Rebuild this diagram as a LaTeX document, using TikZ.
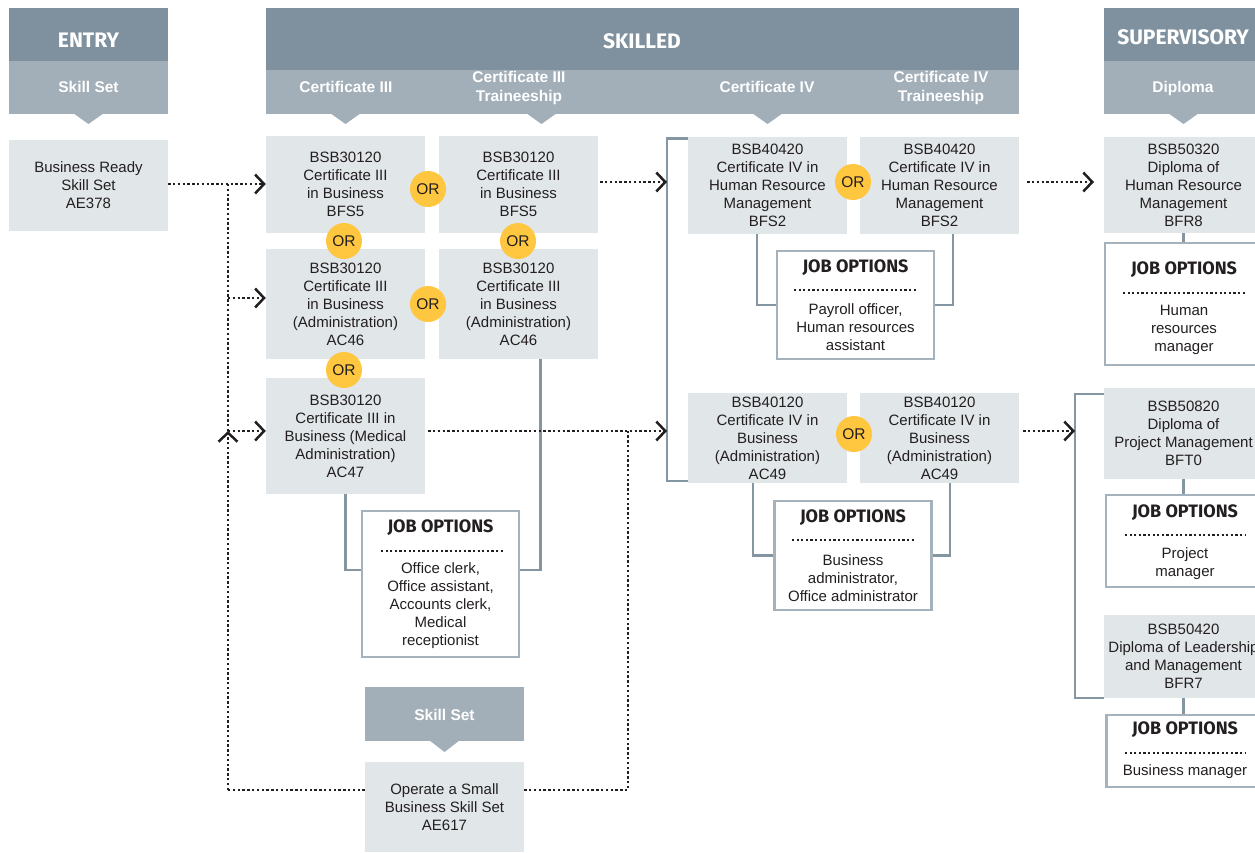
\documentclass[tikz,border=0pt]{standalone}
\usepackage{fontspec}
\setmainfont{Liberation Sans}
\newfontfamily\headfont{Fira Sans}
\usetikzlibrary{arrows.meta,positioning,calc}
\definecolor{hdark}{HTML}{7F919E}
\definecolor{hlight}{HTML}{A2AFB9}
\definecolor{cellgray}{HTML}{E1E6E9}
\definecolor{orgold}{HTML}{FFC63F}
\definecolor{inkgray}{HTML}{231F20}
\definecolor{linkgray}{HTML}{8496A2}
\definecolor{jobedge}{HTML}{A5B2BC}
\begin{document}
\begin{tikzpicture}[x=1pt,y=-1pt,
	course/.style={fill=cellgray, minimum width=159pt, inner sep=0pt, align=center, text=inkgray, font=\fontsize{15}{18}\selectfont},
	orbubble/.style={circle, fill=orgold, minimum size=36pt, inner sep=0pt, text=inkgray, font=\fontsize{15.5}{18}\selectfont},
	jobbox/.style={draw=jobedge, line width=2.5pt, fill=white, minimum width=157pt},
	jobhead/.style={inner sep=0pt, text=inkgray, font=\headfont\bfseries\fontsize{18}{20}\selectfont},
	jobtext/.style={inner sep=0pt, align=center, text=inkgray, font=\fontsize{15}{18}\selectfont},
	jobrule/.style={inkgray, line width=2.2pt, dash pattern=on 2.2pt off 2.4pt},
	hdtext/.style={inner sep=0pt, text=white, font=\headfont\bfseries\fontsize{21}{24}\selectfont},
	subtext/.style={inner sep=0pt, align=center, text=white, font=\bfseries\fontsize{15.5}{19}\selectfont},
	flow/.style={inkgray, line width=2.4pt, dash pattern=on 2.4pt off 2.4pt},
	arrowed/.style={-{Straight Barb[length=9pt,width=19pt,line width=2.5pt]}},
	link/.style={linkgray, line width=2.5pt}]
	\useasboundingbox (0,0) rectangle (1255,852);
	\fill[white] (0,0) rectangle (1255,852);
	\clip (0,0) rectangle (1255,852);

	\fill[hdark] (9,8) rectangle (168,61);
	\fill[hlight] (9,61) rectangle (168,114);
	\fill[hlight] (73,113) -- (88.5,124) -- (104,113) -- cycle;
	\node[hdtext] (entryhd) at (88.5,40) {ENTRY};
	\node[subtext] (entrysub) at (88.5,87) {Skill Set};

	\fill[hdark] (266,8) rectangle (1019,70);
	\fill[hlight] (266,70) rectangle (1019,114);
	\fill[hlight] (330,113) -- (345.5,124) -- (361,113) -- cycle;
	\fill[hlight] (526,113) -- (541.5,124) -- (557,113) -- cycle;
	\fill[hlight] (752,113) -- (767.5,124) -- (783,113) -- cycle;
	\node[hdtext] (skilledhd) at (642,41) {SKILLED};
	\node[subtext] (c3sub) at (346,87) {Certificate III};
	\node[subtext] (c3tsub) at (519,87.5) {Certificate III\\Traineeship};
	\node[subtext] (c4sub) at (767,87) {Certificate IV};
	\node[subtext] (c4tsub) at (941,87.5) {Certificate IV\\Traineeship};

	\fill[hdark] (1104,8) rectangle (1262,61);
	\fill[hlight] (1104,61) rectangle (1262,114);
	\fill[hlight] (1168,113) -- (1183.5,124) -- (1199,113) -- cycle;
	\node[hdtext] (superhd) at (1183,37) {SUPERVISORY};
	\node[subtext] (supersub) at (1183,88) {Diploma};

	\fill[hlight] (365,687) rectangle (524,741);
	\fill[hlight] (429,740) -- (444.5,752) -- (460,740) -- cycle;
	\node[subtext] (smallsub) at (444.5,715) {Skill Set};

	\node[course, minimum height=91pt] (entry) at (88.5,185.5) {Business Ready\\Skill Set\\AE378};
	\node[course, minimum height=97pt] (A1) at (345.5,184.5) {BSB30120\\Certificate III\\in Business\\BFS5};
	\node[course, minimum height=97pt] (B1) at (518.5,184.5) {BSB30120\\Certificate III\\in Business\\BFS5};
	\node[course, minimum height=110pt] (A2) at (345.5,304) {BSB30120\\Certificate III\\in Business\\(Administration)\\AC46};
	\node[course, minimum height=110pt] (B2) at (518.5,304) {BSB30120\\Certificate III\\in Business\\(Administration)\\AC46};
	\node[course, minimum height=116pt] (A3) at (345.5,436) {BSB30120\\Certificate III in\\Business (Medical\\Administration)\\AC47};
	\node[course, minimum height=97pt] (C1) at (767.5,185) {BSB40420\\Certificate IV in\\Human Resource\\Management\\BFS2};
	\node[course, minimum height=97pt] (D1) at (939.5,185) {BSB40420\\Certificate IV in\\Human Resource\\Management\\BFS2};
	\node[course, minimum height=90pt] (C2) at (767.5,438) {BSB40120\\Certificate IV in\\Business\\(Administration)\\AC49};
	\node[course, minimum height=90pt] (D2) at (939.5,438) {BSB40120\\Certificate IV in\\Business\\(Administration)\\AC49};
	\node[course, minimum height=96pt] (E1) at (1183.5,185) {BSB50320\\Diploma of\\Human Resource\\Management\\BFR8};
	\node[course, minimum height=91pt] (E2) at (1183.5,433.5) {BSB50820\\Diploma of\\Project Management\\BFT0};
	\node[course, minimum height=83pt] (E3) at (1183.5,656.5) {BSB50420\\Diploma of Leadership\\and Management\\BFR7};
	\node[course, minimum height=90pt] (F) at (444.5,807) {Operate a Small\\Business Skill Set\\AE617};

	\node[orbubble] (or1) at (428,189) {OR};
	\node[orbubble] (or2) at (344,241) {OR};
	\node[orbubble] (or3) at (518,241) {OR};
	\node[orbubble] (or4) at (428,304) {OR};
	\node[orbubble] (or5) at (344,370) {OR};
	\node[orbubble] (or6) at (853,182) {OR};
	\node[orbubble] (or7) at (854,434) {OR};

	\node[jobbox, minimum height=146pt] (job1) at (440.5,584) {};
	\node[jobhead] (job1h) at (440.5,528) {JOB OPTIONS};
	\draw[jobrule] (381,551) -- (503,551);
	\node[jobtext] (job1x) at (440.5,605.5) {Office clerk,\\Office assistant,\\Accounts clerk,\\Medical\\receptionist};

	\node[jobbox, minimum height=108pt] (job2) at (855.5,305) {};
	\node[jobhead] (job2h) at (855.5,268) {JOB OPTIONS};
	\draw[jobrule] (794,290) -- (917,290);
	\node[jobtext] (job2x) at (855.5,327.5) {Payroll officer,\\Human resources\\assistant};

	\node[jobbox, minimum height=109pt] (job3) at (853,555.5) {};
	\node[jobhead] (job3h) at (853,518) {JOB OPTIONS};
	\draw[jobrule] (792,540) -- (915,540);
	\node[jobtext] (job3x) at (853,578) {Business\\administrator,\\Office administrator};

	\node[jobbox, minimum height=122pt] (job4) at (1183.5,304) {};
	\node[jobhead] (job4h) at (1184,270) {JOB OPTIONS};
	\draw[jobrule] (1123,293) -- (1245,293);
	\node[jobtext] (job4x) at (1184,330) {Human\\resources\\manager};

	\node[jobbox, minimum height=92pt] (job5) at (1184.5,541) {};
	\node[jobhead] (job5h) at (1185,513) {JOB OPTIONS};
	\draw[jobrule] (1125,535) -- (1245,535);
	\node[jobtext] (job5x) at (1185,564) {Project\\manager};

	\node[jobbox, minimum height=72pt] (job6) at (1185,751) {};
	\node[jobhead] (job6h) at (1185,730) {JOB OPTIONS};
	\draw[jobrule] (1125,753) -- (1245,753);
	\node[jobtext] (job6x) at (1185,772) {Business manager};

	\draw[link] (A3.south) |- ([yshift=14pt]job1.west);
	\draw[link] ([xshift=22pt]B2.south) |- ([yshift=14pt]job1.east);
	\draw[link] ([xshift=-10.5pt]C1.south) |- (job2.west);
	\draw[link] ([xshift=13.5pt]D1.south) |- (job2.east);
	\draw[link] ([xshift=-14.5pt]C2.south) |- (job3.west);
	\draw[link] ([xshift=10.5pt]D2.south) |- (job3.east);
	\draw[link] (E1.south) -- (E1.south |- job4.north);
	\draw[link] (E2.south) -- (E2.south |- job5.north);
	\draw[link] (E3.south) -- (E3.south |- job6.north);
	\draw[link] ($(C1.north west)+(0,2)$) -- ++(-21,0) |- ($(C2.south west)+(0,-2)$);
	\draw[link] ($(E2.north west)+(0,6)$) -- ++(-29,0) |- (E3.south west);

	\coordinate (j1) at (228,184);
	\coordinate (j2) at (228,298);
	\coordinate (j3) at (228,431);
	\coordinate (jf) at (228,790);
	\coordinate (k3) at (628,431);
	\coordinate (kf) at (628,790);
	\coordinate (bar0) at (667,182);
	\coordinate (bar1) at (667,431);
	\coordinate (bar2) at (1075,431);
	\coordinate (e1in) at (1094,182);
	\draw[flow,arrowed] (entry.east |- j1) -- (A1.west |- j1);
	\draw[flow] (j1) -- (j3);
	\draw[flow,arrowed] (j2) -- (A2.west |- j2);
	\draw[flow,arrowed] (j3) -- (A3.west |- j3);
	\draw[flow] (F.west |- jf) -- (jf);
	\draw[flow,arrowed] (jf) -- (j3);
	\draw[flow] (F.east |- kf) -- (kf) -- (k3);
	\draw[flow,arrowed] ($(A3.east |- bar1)+(3,0)$) -- (bar1);
	\draw[flow,arrowed] ($(B1.east |- bar0)+(2,0)$) -- (bar0);
	\draw[flow,arrowed] ($(D1.east |- e1in)+(8,0)$) -- (e1in);
	\draw[flow,arrowed] ($(D2.east |- bar2)+(4,0)$) -- (bar2);
\end{tikzpicture}
\end{document}
